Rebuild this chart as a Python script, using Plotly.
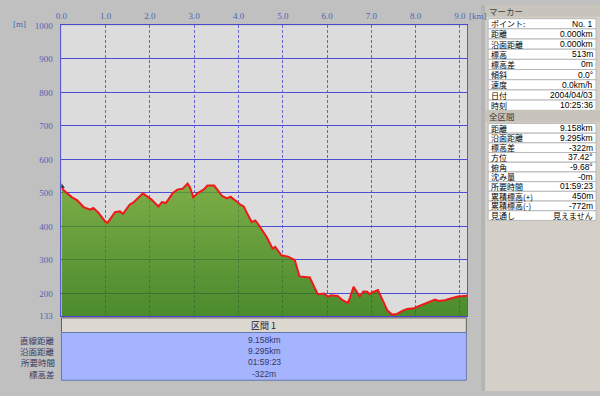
import plotly.graph_objects as go

W, H = 600, 396

# ---- data ----
dist_km = [0.00,0.05,0.24,0.35,0.50,0.65,0.72,0.83,0.98,1.04,1.21,1.32,1.39,1.54,1.62,1.73,1.84,2.03,2.19,2.27,
           2.36,2.51,2.62,2.74,2.85,2.90,2.98,3.07,3.15,3.21,3.30,3.45,3.52,3.63,3.74,3.82,3.89,3.97,4.04,4.12,
           4.19,4.30,4.38,4.45,4.64,4.77,4.83,4.90,4.97,5.12,5.27,5.38,5.61,5.79,5.94,6.02,6.09,6.24,6.35,6.47,
           6.52,6.60,6.67,6.74,6.82,6.91,6.96,7.02,7.15,7.25,7.36,7.47,7.56,7.70,7.81,7.96,8.07,8.22,8.33,8.44,
           8.52,8.66,8.81,8.96,9.17]
elev_m = [520,508,487,479,458,450,455,442,416,411,443,445,438,465,471,484,499,481,460,473,
          470,499,510,513,528,518,487,499,504,510,522,522,510,491,484,489,481,474,465,460,
          440,413,418,406,368,334,339,326,314,310,300,251,248,198,200,190,195,193,180,172,
          188,220,207,191,206,205,198,203,210,183,150,137,138,148,154,156,162,169,174,182,
          178,180,186,191,193]

x_ticks = [0, 1, 2, 3, 4, 5, 6, 7, 8, 9]
x_tick_text = ["0.0", "1.0", "2.0", "3.0", "4.0", "5.0", "6.0", "7.0", "8.0", "9.0"]
y_ticks = [133, 200, 300, 400, 500, 600, 700, 800, 900, 1000]
y_tick_text = ["133", "200", "300", "400", "500", "600", "700", "800", "900", "1000"]
x_range = [0, 9.17]
y_range = [133, 1000]

section_title = "区間 1"
section_labels = ["直線距離", "沿面距離", "所要時間", "標高差"]
section_values = ["9.158km", "9.295km", "01:59:23", "-322m"]

marker_title = "マーカー"
marker_labels = ["ポイント:", "距離", "沿面距離", "標高", "標高差", "傾斜", "速度", "日付", "時刻"]
marker_values = ["No. 1", "0.000km", "0.000km", "513m", "0m", "0.0°", "0.0km/h", "2004/04/03", "10:25:36"]

total_title = "全区間"
total_labels = ["距離", "沿面距離", "標高差", "方位", "俯角", "沈み量", "所要時間", "累積標高(+)", "累積標高(-)", "見通し"]
total_values = ["9.158km", "9.295km", "-322m", "37.42°", "-9.68°", "-0m", "01:59:23", "450m", "-772m", "見えません"]

# ---- helpers ----
def X(px):
    return px / W

def Y(py):
    return 1 - py / H

JP = "Noto Sans CJK JP"
NUM = "Liberation Sans"
TICK = "Liberation Serif"
AXIS_BLUE = "#5060b8"

shapes = []
annotations = []

def rect(x0, y0, x1, y1, fill, line="rgba(0,0,0,0)", lw=0):
    shapes.append(dict(type="rect", xref="paper", yref="paper", x0=X(x0), x1=X(x1), y0=Y(y1), y1=Y(y0),
                       fillcolor=fill, line=dict(color=line, width=lw), layer="below"))

def text(x, y, s, anchor="left", size=10, color="#000000", family=JP):
    annotations.append(dict(xref="paper", yref="paper", x=X(x), y=Y(y), text=s, showarrow=False,
                            xanchor=anchor, yanchor="middle", borderpad=0,
                            font=dict(family=family, size=size, color=color)))

fig = go.Figure()

# elevation area with vertical gradient (slightly translucent so the grid shows through)
fig.add_trace(go.Scatter(
    x=dist_km, y=elev_m, mode="lines", fill="tozeroy",
    fillgradient=dict(type="vertical", colorscale=[[0, "rgba(36,116,0,0.8)"], [1, "rgba(98,160,32,0.8)"]],
                      start=133, stop=530),
    line=dict(width=0, color="rgba(0,0,0,0)"), hoverinfo="skip", showlegend=False))

# red profile line
fig.add_trace(go.Scatter(x=dist_km, y=elev_m, mode="lines", line=dict(color="#f01818", width=2),
                         hoverinfo="skip", showlegend=False))
# start marker
fig.add_trace(go.Scatter(x=dist_km[:1], y=elev_m[:1], mode="markers",
                         marker=dict(symbol="triangle-up", size=6, color="#303030"),
                         hoverinfo="skip", showlegend=False))

# ---- backgrounds ----
rect(480, 0, 484, H, "#b4b4b4")
rect(484, 0, 600, H, "#d4d0c8")

# bottom section table
rect(56, 321, 465, 336, "#dcd8d0", "#606060", 1)
text(260, 328.5, section_title, "center", 9, "#202040")
rect(56, 336, 465, 385, "#a4b4ff", "#6878a8", 1)
row_y = [343.3, 355, 366.7, 378.3]
for ry, lab, val in zip(row_y, section_labels, section_values):
    text(50, ry, lab, "right", 8.5, "#383860")
    text(261, ry, val, "center", 8.5, "#383860", NUM)

# right panel: marker table
rect(484, 0, 600, 12, "#c8c4bc")
text(487, 6, marker_title, "left", 8.5, "#404040")
t1_top, t1_bot = 14, 108
rh1 = (t1_bot - t1_top) / len(marker_labels)
for i, (lab, val) in enumerate(zip(marker_labels, marker_values)):
    y0 = t1_top + i * rh1
    rect(487, y0, 596, y0 + rh1, "#ffffff", "#b8b8b8", 1)
    text(489, y0 + rh1 / 2, lab, "left", 8, "#000000")
    text(594, y0 + rh1 / 2, val, "right", 8.5, "#000000", NUM)

# right panel: total table
rect(484, 108, 600, 120, "#c8c4bc")
text(487, 114, total_title, "left", 8.5, "#404040")
t2_top, t2_bot = 121.5, 221
rh2 = (t2_bot - t2_top) / len(total_labels)
for i, (lab, val) in enumerate(zip(total_labels, total_values)):
    y0 = t2_top + i * rh2
    rect(487, y0, 596, y0 + rh2, "#ffffff", "#b8b8b8", 1)
    text(489, y0 + rh2 / 2, lab, "left", 8, "#000000")
    fam = JP if any(ord(c) > 0x3000 for c in val) else NUM
    text(594, y0 + rh2 / 2, val, "right", 8 if fam == JP else 8.5, "#000000", fam)

# axis unit labels
text(14, 19, "[m]", "center", 9, AXIS_BLUE, TICK)
text(467, 11, "[km]", "left", 9, AXIS_BLUE, TICK)

fig.update_layout(
    width=W, height=H, autosize=False,
    margin=dict(l=0, r=0, t=0, b=0, pad=0),
    paper_bgcolor="#c0c0c0", plot_bgcolor="#dcdcdc",
    shapes=shapes, annotations=annotations, showlegend=False,
    xaxis=dict(domain=[X(56), X(466)], range=x_range, side="top", tickvals=x_ticks, ticktext=x_tick_text,
               showgrid=True, gridcolor="#6464cc", griddash="3px,2px", gridwidth=1,
               zeroline=False, ticks="", ticklabelstandoff=2,
               tickfont=dict(family=TICK, size=9, color=AXIS_BLUE),
               showline=True, mirror=True, linecolor="#4848d0", linewidth=1, fixedrange=True),
    yaxis=dict(domain=[Y(319), Y(21)], range=y_range, tickvals=y_ticks, ticktext=y_tick_text,
               showgrid=True, gridcolor="#4c4cd8", gridwidth=1,
               zeroline=False, ticks="", ticklabelstandoff=6,
               tickfont=dict(family=TICK, size=9, color=AXIS_BLUE),
               showline=True, mirror=True, linecolor="#5858d0", linewidth=1, fixedrange=True),
)

fig.write_html("out.html", config={"displayModeBar": False},
               post_script="document.body.style.margin='0';document.body.style.overflow='hidden';")
